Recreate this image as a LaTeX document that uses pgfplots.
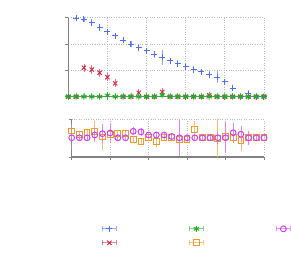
\documentclass[border=0pt]{standalone}
\usepackage{pgfplots}
\usepackage{pgfplotstable}
\pgfplotsset{compat=1.18}
\definecolor{blueC}{RGB}{80,110,235}
\definecolor{redC}{RGB}{205,40,75}
\definecolor{greenC}{RGB}{30,175,30}
\definecolor{orangeC}{RGB}{232,155,45}
\definecolor{purpleC}{RGB}{205,65,235}
\pgfplotsset{
 errleg/.style={legend image code/.code={
   \draw[##1,mark=none,draw opacity=0.55] (0bp,0bp) -- (14bp,0bp);
   \draw[##1,mark=none,draw opacity=0.55] (0bp,-2.5bp) -- (0bp,2.5bp);
   \draw[##1,mark=none,draw opacity=0.55] (14bp,-2.5bp) -- (14bp,2.5bp);
   \draw[##1] plot coordinates {(7bp,0bp)};
 }},
 myaxis/.style={scale only axis, xmin=0, xmax=25, xtick={0,5,...,25},
   xticklabels={}, yticklabels={},
   axis x line*=bottom, axis y line*=left,
   axis line style={-, gray, line width=1.2bp},
   tick align=outside, major tick length=3bp,
   tick style={gray, line width=1bp},
   grid=major, grid style={dotted, gray!55, line width=0.8bp},
   clip=true},
 eb/.style={error bars/.cd, y dir=both, y explicit,
   error bar style={#1!65, line width=0.8bp},
   error mark options={#1!65, mark size=2.3bp, line width=0.8bp}},
}
\pgfplotstableread{
x y e
1 2.98 0.03
2 2.94 0.03
3 2.81 0.05
4 2.64 0.05
5 2.46 0.03
6 2.31 0.03
7 2.14 0.03
8 2.00 0.04
9 1.86 0.04
10 1.74 0.03
11 1.61 0.05
12 1.50 0.20
13 1.36 0.04
14 1.26 0.05
15 1.14 0.04
16 1.03 0.04
17 0.94 0.04
18 0.83 0.05
19 0.74 0.15
20 0.56 0.04
21 0.33 0.03
22 0.00 0.02
23 0.12 0.03
24 0.00 0.02
25 0.00 0.57
}\bluedata
\pgfplotstableread{
x y e
0 0 0.06
1 0 0.06
2 1.10 0.07
3 1.03 0.07
4 0.91 0.07
5 0.74 0.07
6 0.51 0.07
7 0 0.06
8 0 0.06
9 0.15 0.06
10 0 0.06
11 0 0.06
12 0.18 0.06
13 0 0.06
14 0 0.06
15 0 0.06
16 0 0.06
17 0 0.06
18 0.05 0.06
19 0 0.06
20 0 0.06
21 0 0.06
22 0 0.06
23 0 0.06
24 0 0.06
25 0 0.06
}\reddata
\pgfplotstableread{
x y e
0 0 0.05
1 0 0.05
2 0 0.05
3 0 0.05
4 0 0.05
5 0.05 0.05
6 0 0.05
7 0 0.05
8 0 0.05
9 0 0.05
10 0 0.05
11 0 0.05
12 0.06 0.05
13 0 0.05
14 0 0.05
15 0 0.05
16 0 0.05
17 0 0.05
18 0 0.05
19 0 0.05
20 0 0.05
21 0 0.05
22 0 0.05
23 0 0.05
24 0 0.05
25 0 0.05
}\greendata
\pgfplotstableread{
x y e
0 1.39 0.27
1 1.22 0.05
2 1.30 0.05
3 1.36 0.45
4 1.07 0.57
5 1.20 0.10
6 1.25 0.05
7 1.25 0.05
8 0.92 0.05
9 0.85 0.05
10 1.03 0.05
11 0.85 0.20
12 1.03 0.05
13 1.03 0.05
14 0.95 0.35
15 0.95 0.05
16 1.49 0.30
17 1.03 0.05
18 1.03 0.05
19 1.00 0.90
20 1.10 0.70
21 1.03 0.05
22 0.90 0.45
23 1.03 0.05
24 1.03 0.05
25 1.03 0.05
}\orangedata
\pgfplotstableread{
x y e
0 1.03 0.55
1 1.03 0.03
2 1.03 0.03
3 1.18 0.20
4 1.25 0.40
5 1.29 0.40
6 1.03 0.03
7 1.03 0.03
8 1.38 0.10
9 1.35 0.10
10 1.18 0.05
11 1.18 0.05
12 1.18 0.05
13 1.10 0.05
14 1.03 0.85
15 1.03 0.03
16 1.03 0.03
17 1.03 0.03
18 1.03 0.03
19 1.03 0.20
20 1.03 0.70
21 1.30 0.40
22 1.22 0.30
23 1.03 0.25
24 1.03 0.03
25 1.03 0.03
}\purpledata
\begin{document}
\begin{tikzpicture}
\path[use as bounding box] (0,0) rectangle (291bp,256bp);
\begin{axis}[myaxis, at={(68.3bp,159.3bp)}, anchor=south west,
  width=195.7bp, height=79bp, ymin=0, ymax=3, ytick={0,1,2,3}]
\addplot[only marks, color=blueC, mark=+, mark size=3bp, line width=1bp,
  mark options={blueC}, eb=blueC]
  table[x=x, y=y, y error=e] {\bluedata};
\addplot[only marks, color=redC, mark=x, mark size=3bp, line width=1bp,
  mark options={redC}, eb=redC]
  table[x=x, y=y, y error=e] {\reddata};
\addplot[only marks, color=greenC, mark=asterisk, mark size=3bp, line width=1bp,
  mark options={greenC}, eb=greenC]
  table[x=x, y=y, y error=e] {\greendata};
\end{axis}
\begin{axis}[myaxis, at={(71.7bp,99bp)}, anchor=south west,
  width=192.3bp, height=37.3bp, ymin=0, ymax=2, ytick={0,2},
  legend columns=3,
  legend style={draw=none, fill=none, at={(axis description cs:0.156,-1.84)},
    anchor=north west, inner sep=0pt, row sep=8bp, nodes={inner sep=0pt},
    /tikz/every even column/.append style={column sep=71bp}}]
\addlegendimage{errleg, color=blueC, mark=+, mark size=3bp, line width=1bp}
\addlegendentry{}
\addlegendimage{errleg, color=greenC, mark=asterisk, mark size=3bp, line width=1bp}
\addlegendentry{}
\addlegendimage{errleg, color=purpleC, mark=o, mark size=2.9bp, line width=1bp}
\addlegendentry{}
\addlegendimage{errleg, color=redC, mark=x, mark size=3bp, line width=1bp}
\addlegendentry{}
\addlegendimage{errleg, color=orangeC, mark=square, mark size=2.9bp, line width=1bp}
\addlegendentry{}
\addplot[forget plot, only marks, color=orangeC, mark=square, mark size=2.9bp,
  line width=1bp, mark options={orangeC}, eb=orangeC]
  table[x=x, y=y, y error=e] {\orangedata};
\addplot[forget plot, only marks, color=purpleC, mark=o, mark size=2.9bp,
  line width=1bp, mark options={purpleC}, eb=purpleC]
  table[x=x, y=y, y error=e] {\purpledata};
\end{axis}
\end{tikzpicture}
\end{document}
